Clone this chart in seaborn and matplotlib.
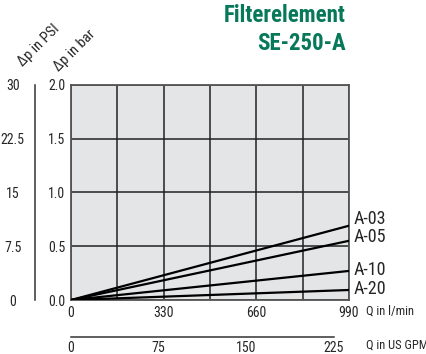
import pandas as pd
import matplotlib
matplotlib.use('Agg')
import matplotlib.pyplot as plt
import seaborn as sns

sns.set_style('white')
plt.rcParams['font.family'] = ['Roboto Condensed', 'Liberation Sans', 'DejaVu Sans']

# Daten
flow_lpm = [0, 990]
elements = ['A-03', 'A-05', 'A-10', 'A-20']
dp_a03 = [0.0, 0.69]
dp_a05 = [0.0, 0.55]
dp_a10 = [0.0, 0.27]
dp_a20 = [0.0, 0.093]

bar_ticks = [0.0, 0.5, 1.0, 1.5, 2.0]
psi_ticks = [0, 7.5, 15, 22.5, 30]
psi_labels = ['0', '7.5', '15', '22.5', '30']
lpm_ticks = [0, 330, 660, 990]
gpm_ticks = [0, 75, 150, 225]

df = pd.DataFrame({
    'Q': flow_lpm * 4,
    'dp': dp_a03 + dp_a05 + dp_a10 + dp_a20,
    'element': [e for e in elements for _ in flow_lpm],
})

green = '#07795a'
W, H = 427, 354
fig = plt.figure(figsize=(W / 100, H / 100), dpi=100)

# Hauptdiagramm
ax = fig.add_axes([71 / W, (H - 300) / H, 278 / W, 215.3 / H])
ax.set_facecolor('#e4e5e7')
sns.lineplot(data=df, x='Q', y='dp', hue='element', palette=['black'] * 4,
             legend=False, linewidth=1.6, ax=ax, zorder=3)
ax.set_xlim(0, 990)
ax.set_ylim(0, 2.0)
ax.set_xticks([0, 165, 330, 495, 660, 825, 990])
ax.set_xticklabels(['0', '', '330', '', '660', '', '990'])
ax.set_yticks(bar_ticks)
ax.set_yticklabels(['0.0', '0.5', '1.0', '1.5', '2.0'])
ax.grid(True, color='#222222', linewidth=1.1)
ax.tick_params(length=0, labelsize=10, pad=4)
ax.set_xlabel('')
ax.set_ylabel('')
for s in ax.spines.values():
    s.set_color('#555555')
    s.set_linewidth(1.3)

# Beschriftung der Kennlinien
label_offsets = [4.5, 3, 0.5, 0.5]
ends = [dp_a03[-1], dp_a05[-1], dp_a10[-1], dp_a20[-1]]
for name, val, off in zip(elements, ends, label_offsets):
    ax.annotate(name, (990, val), xytext=(3, off), textcoords='offset points',
                ha='left', va='center', fontsize=13, annotation_clip=False)
fig.text(366 / W, 1 - 311 / H, 'Q in l/min', fontsize=9, ha='left', va='center')

# PSI-Achse
ax_psi = fig.add_axes([35 / W, (H - 300) / H, 0.0001, 215.3 / H])
ax_psi.set_facecolor('none')
for k in ['top', 'right', 'bottom']:
    ax_psi.spines[k].set_visible(False)
ax_psi.spines['left'].set_color('#333333')
ax_psi.spines['left'].set_linewidth(1.1)
ax_psi.set_ylim(0, 30)
ax_psi.set_yticks(psi_ticks)
ax_psi.set_yticklabels(psi_labels, ha='center')
ax_psi.set_xticks([])
ax_psi.tick_params(axis='y', direction='in', length=5, width=1.1,
                   color='#333333', labelsize=10, pad=16)

# GPM-Achse
ax_gpm = fig.add_axes([71 / W, (H - 336.5) / H, 278 / W, 0.0001])
ax_gpm.set_facecolor('none')
for k in ['top', 'right', 'left']:
    ax_gpm.spines[k].set_visible(False)
ax_gpm.spines['bottom'].set_color('#333333')
ax_gpm.spines['bottom'].set_linewidth(1.1)
ax_gpm.spines['bottom'].set_bounds(0, 225)
ax_gpm.set_xlim(0, 225 * 278 / 263)
ax_gpm.set_xticks(gpm_ticks)
ax_gpm.set_yticks([])
ax_gpm.tick_params(axis='x', direction='in', length=7, width=1.1,
                   color='#333333', labelsize=10, pad=3)
fig.text(366 / W, 1 - 345 / H, 'Q in US GPM', fontsize=9, ha='left', va='center')

# Achsentitel
fig.text(25 / W, 1 - 69 / H, 'Δp in PSI', rotation=45, fontsize=10.5,
         ha='left', va='bottom', rotation_mode='anchor')
fig.text(61 / W, 1 - 74 / H, 'Δp in bar', rotation=45, fontsize=10.5,
         ha='left', va='bottom', rotation_mode='anchor')

# Titel
fig.text(346 / W, 1 - 15 / H, 'Filterelement', color=green, fontsize=16.5,
         fontweight='bold', ha='right', va='center')
fig.text(346 / W, 1 - 43 / H, 'SE-250-A', color=green, fontsize=16.5,
         fontweight='bold', ha='right', va='center')

fig.savefig('out.png', dpi=100)
